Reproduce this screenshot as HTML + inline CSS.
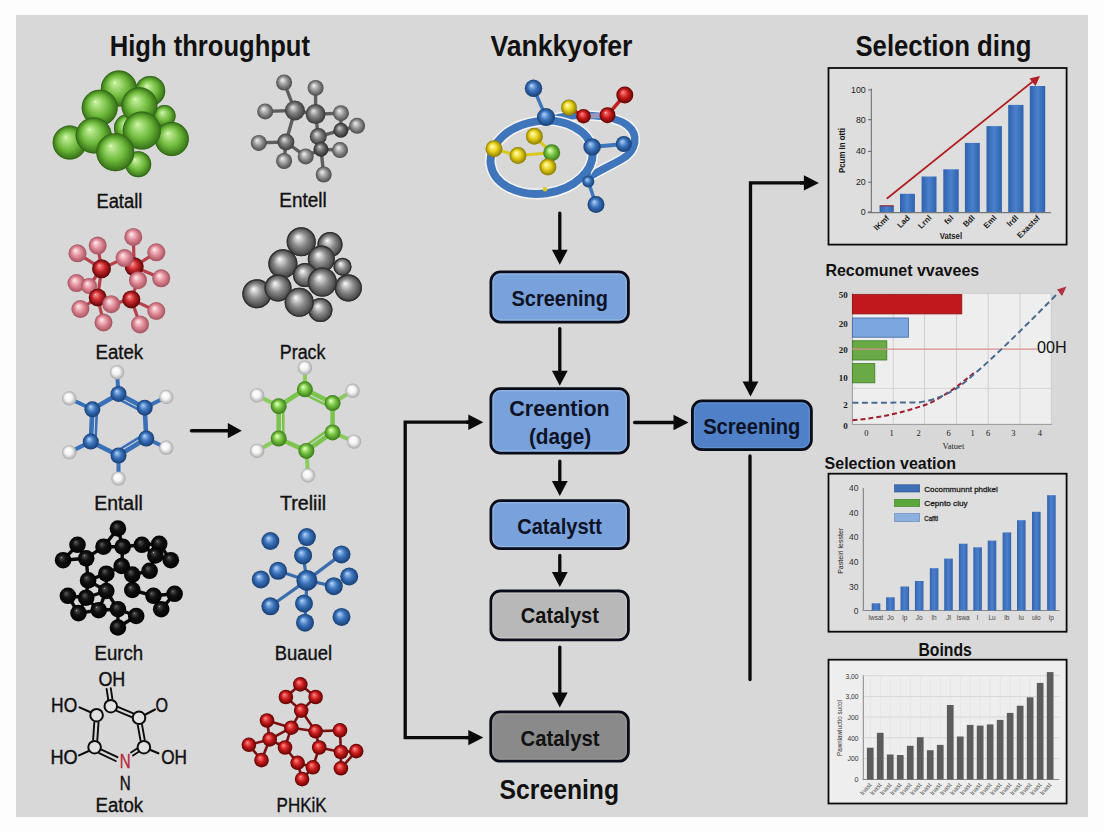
<!DOCTYPE html><html><head><meta charset="utf-8"><style>html,body{margin:0;padding:0;background:#fdfdfd;width:1104px;height:832px;overflow:hidden;position:relative}</style></head><body><svg width="1104" height="832" viewBox="0 0 1104 832" style="position:absolute;left:0;top:0">
<defs><radialGradient id="g_green" cx="0.5" cy="0.5" r="0.5" fx="0.38" fy="0.33"><stop offset="0" stop-color="#ffffff" stop-opacity="0.9"/><stop offset="0.06" stop-color="#c4f09a"/><stop offset="0.6" stop-color="#6cb83a"/><stop offset="1" stop-color="#346e16"/></radialGradient><radialGradient id="g_lgray" cx="0.5" cy="0.5" r="0.5" fx="0.38" fy="0.33"><stop offset="0" stop-color="#ffffff" stop-opacity="0.9"/><stop offset="0.06" stop-color="#e8e8e8"/><stop offset="0.5" stop-color="#9a9a9a"/><stop offset="1" stop-color="#4a4a4a"/></radialGradient><radialGradient id="g_cgray" cx="0.5" cy="0.5" r="0.5" fx="0.38" fy="0.33"><stop offset="0" stop-color="#ffffff" stop-opacity="0.9"/><stop offset="0.06" stop-color="#d8d8d8"/><stop offset="0.5" stop-color="#7e7e7e"/><stop offset="1" stop-color="#3a3a3a"/></radialGradient><radialGradient id="g_dgray" cx="0.5" cy="0.5" r="0.5" fx="0.38" fy="0.33"><stop offset="0" stop-color="#ffffff" stop-opacity="0.9"/><stop offset="0.06" stop-color="#c0c0c0"/><stop offset="0.5" stop-color="#6a6a6a"/><stop offset="1" stop-color="#2a2a2a"/></radialGradient><radialGradient id="g_mgray" cx="0.5" cy="0.5" r="0.5" fx="0.38" fy="0.33"><stop offset="0" stop-color="#ffffff" stop-opacity="0.9"/><stop offset="0.06" stop-color="#eeeeee"/><stop offset="0.5" stop-color="#8c8c8c"/><stop offset="1" stop-color="#3c3c3c"/></radialGradient><radialGradient id="g_pink" cx="0.5" cy="0.5" r="0.5" fx="0.38" fy="0.33"><stop offset="0" stop-color="#ffffff" stop-opacity="0.9"/><stop offset="0.06" stop-color="#fde2e6"/><stop offset="0.5" stop-color="#e4909c"/><stop offset="1" stop-color="#a4525e"/></radialGradient><radialGradient id="g_red" cx="0.5" cy="0.5" r="0.5" fx="0.38" fy="0.33"><stop offset="0" stop-color="#ffffff" stop-opacity="0.9"/><stop offset="0.06" stop-color="#ff8a8a"/><stop offset="0.5" stop-color="#c8282c"/><stop offset="1" stop-color="#5a0404"/></radialGradient><radialGradient id="g_red2" cx="0.5" cy="0.5" r="0.5" fx="0.38" fy="0.33"><stop offset="0" stop-color="#ffffff" stop-opacity="0.9"/><stop offset="0.06" stop-color="#ff7a7a"/><stop offset="0.5" stop-color="#cc1e1e"/><stop offset="1" stop-color="#5e0000"/></radialGradient><radialGradient id="g_blue" cx="0.5" cy="0.5" r="0.5" fx="0.38" fy="0.33"><stop offset="0" stop-color="#ffffff" stop-opacity="0.9"/><stop offset="0.06" stop-color="#a4c8f2"/><stop offset="0.5" stop-color="#3c74bc"/><stop offset="1" stop-color="#163e74"/></radialGradient><radialGradient id="g_white" cx="0.5" cy="0.5" r="0.5" fx="0.38" fy="0.33"><stop offset="0" stop-color="#ffffff" stop-opacity="0.9"/><stop offset="0.06" stop-color="#ffffff"/><stop offset="0.5" stop-color="#f4f4f4"/><stop offset="1" stop-color="#a8a8a8"/></radialGradient><radialGradient id="g_black" cx="0.5" cy="0.5" r="0.5" fx="0.38" fy="0.33"><stop offset="0" stop-color="#ffffff" stop-opacity="0.9"/><stop offset="0.06" stop-color="#505050"/><stop offset="0.45" stop-color="#121212"/><stop offset="1" stop-color="#000000"/></radialGradient><radialGradient id="g_yellow" cx="0.5" cy="0.5" r="0.5" fx="0.38" fy="0.33"><stop offset="0" stop-color="#ffffff" stop-opacity="0.9"/><stop offset="0.06" stop-color="#fffbb0"/><stop offset="0.5" stop-color="#e8d21c"/><stop offset="1" stop-color="#8a7a00"/></radialGradient><radialGradient id="g_lgreen" cx="0.5" cy="0.5" r="0.5" fx="0.38" fy="0.33"><stop offset="0" stop-color="#ffffff" stop-opacity="0.9"/><stop offset="0.06" stop-color="#d8ffb0"/><stop offset="0.5" stop-color="#78c444"/><stop offset="1" stop-color="#3a7a18"/></radialGradient><marker id="ah" markerWidth="6" markerHeight="6" refX="5" refY="3" orient="auto" markerUnits="strokeWidth"><path d="M0,0 L6,3 L0,6 z" fill="#111"/></marker></defs>
<rect x="0" y="0" width="1104" height="832" fill="#fdfdfd"/>
<rect x="16" y="15" width="1072" height="802" fill="#d8d8d8"/>
<text x="109.8" y="56" font-size="29" font-weight="bold" fill="#111" text-anchor="start" font-family="&quot;Liberation Sans&quot;, sans-serif" textLength="200.2" lengthAdjust="spacingAndGlyphs" >High throughput</text>
<text x="490.4" y="56.2" font-size="29" font-weight="bold" fill="#111" text-anchor="start" font-family="&quot;Liberation Sans&quot;, sans-serif" textLength="142.1" lengthAdjust="spacingAndGlyphs" >Vankkyofer</text>
<text x="855.4" y="56" font-size="29" font-weight="bold" fill="#111" text-anchor="start" font-family="&quot;Liberation Sans&quot;, sans-serif" textLength="176" lengthAdjust="spacingAndGlyphs" >Selection ding</text>
<text x="96.4" y="207.6" font-size="19.5" font-weight="normal" fill="#111" text-anchor="start" font-family="&quot;Liberation Sans&quot;, sans-serif" textLength="45.9" lengthAdjust="spacingAndGlyphs" stroke="#111" stroke-width="0.35">Eatall</text>
<text x="279.3" y="207.4" font-size="19.5" font-weight="normal" fill="#111" text-anchor="start" font-family="&quot;Liberation Sans&quot;, sans-serif" textLength="47.4" lengthAdjust="spacingAndGlyphs" stroke="#111" stroke-width="0.35">Entell</text>
<text x="95.5" y="359" font-size="19.5" font-weight="normal" fill="#111" text-anchor="start" font-family="&quot;Liberation Sans&quot;, sans-serif" textLength="47.7" lengthAdjust="spacingAndGlyphs" stroke="#111" stroke-width="0.35">Eatek</text>
<text x="279.8" y="359" font-size="19.5" font-weight="normal" fill="#111" text-anchor="start" font-family="&quot;Liberation Sans&quot;, sans-serif" textLength="45.6" lengthAdjust="spacingAndGlyphs" stroke="#111" stroke-width="0.35">Prack</text>
<text x="94.2" y="510.3" font-size="19.5" font-weight="normal" fill="#111" text-anchor="start" font-family="&quot;Liberation Sans&quot;, sans-serif" textLength="48.6" lengthAdjust="spacingAndGlyphs" stroke="#111" stroke-width="0.35">Entall</text>
<text x="280.0" y="510.3" font-size="19.5" font-weight="normal" fill="#111" text-anchor="start" font-family="&quot;Liberation Sans&quot;, sans-serif" textLength="46.2" lengthAdjust="spacingAndGlyphs" stroke="#111" stroke-width="0.35">Treliil</text>
<text x="94.6" y="659.6" font-size="19.5" font-weight="normal" fill="#111" text-anchor="start" font-family="&quot;Liberation Sans&quot;, sans-serif" textLength="48.6" lengthAdjust="spacingAndGlyphs" stroke="#111" stroke-width="0.35">Eurch</text>
<text x="274.8" y="659.6" font-size="19.5" font-weight="normal" fill="#111" text-anchor="start" font-family="&quot;Liberation Sans&quot;, sans-serif" textLength="57.4" lengthAdjust="spacingAndGlyphs" stroke="#111" stroke-width="0.35">Buauel</text>
<text x="95.5" y="811.8" font-size="19.5" font-weight="normal" fill="#111" text-anchor="start" font-family="&quot;Liberation Sans&quot;, sans-serif" textLength="47.7" lengthAdjust="spacingAndGlyphs" stroke="#111" stroke-width="0.35">Eatok</text>
<text x="276.6" y="811.5" font-size="19.5" font-weight="normal" fill="#111" text-anchor="start" font-family="&quot;Liberation Sans&quot;, sans-serif" textLength="50.1" lengthAdjust="spacingAndGlyphs" stroke="#111" stroke-width="0.35">PHKiK</text>
<circle cx="164.6" cy="116.0" r="11.0" fill="url(#g_green)"/>
<circle cx="164.6" cy="116" r="10.6" fill="none" stroke="#2e5e14" stroke-width="0.8" opacity="0.7"/>
<circle cx="150.2" cy="90.9" r="15.0" fill="url(#g_green)"/>
<circle cx="150.2" cy="90.9" r="14.6" fill="none" stroke="#2e5e14" stroke-width="0.8" opacity="0.7"/>
<circle cx="118.9" cy="88.5" r="18.0" fill="url(#g_green)"/>
<circle cx="118.9" cy="88.5" r="17.6" fill="none" stroke="#2e5e14" stroke-width="0.8" opacity="0.7"/>
<circle cx="138.2" cy="164.2" r="13.0" fill="url(#g_green)"/>
<circle cx="138.2" cy="164.2" r="12.6" fill="none" stroke="#2e5e14" stroke-width="0.8" opacity="0.7"/>
<circle cx="171.8" cy="139.0" r="17.0" fill="url(#g_green)"/>
<circle cx="171.8" cy="139" r="16.6" fill="none" stroke="#2e5e14" stroke-width="0.8" opacity="0.7"/>
<circle cx="69.7" cy="142.6" r="17.0" fill="url(#g_green)"/>
<circle cx="69.7" cy="142.6" r="16.6" fill="none" stroke="#2e5e14" stroke-width="0.8" opacity="0.7"/>
<circle cx="128.0" cy="128.0" r="14.0" fill="url(#g_green)"/>
<circle cx="128" cy="128" r="13.6" fill="none" stroke="#2e5e14" stroke-width="0.8" opacity="0.7"/>
<circle cx="139.4" cy="105.3" r="18.0" fill="url(#g_green)"/>
<circle cx="139.4" cy="105.3" r="17.6" fill="none" stroke="#2e5e14" stroke-width="0.8" opacity="0.7"/>
<circle cx="99.7" cy="107.7" r="18.0" fill="url(#g_green)"/>
<circle cx="99.7" cy="107.7" r="17.6" fill="none" stroke="#2e5e14" stroke-width="0.8" opacity="0.7"/>
<circle cx="93.7" cy="135.4" r="18.0" fill="url(#g_green)"/>
<circle cx="93.7" cy="135.4" r="17.6" fill="none" stroke="#2e5e14" stroke-width="0.8" opacity="0.7"/>
<circle cx="141.8" cy="130.6" r="19.0" fill="url(#g_green)"/>
<circle cx="141.8" cy="130.6" r="18.6" fill="none" stroke="#2e5e14" stroke-width="0.8" opacity="0.7"/>
<circle cx="115.3" cy="152.2" r="19.0" fill="url(#g_green)"/>
<circle cx="115.3" cy="152.2" r="18.6" fill="none" stroke="#2e5e14" stroke-width="0.8" opacity="0.7"/>
<line x1="294.9" y1="110.5" x2="284.1" y2="82.5" stroke="#5e5e5e" stroke-width="3.4" stroke-linecap="round" />
<line x1="315.6" y1="114.1" x2="315.6" y2="87.9" stroke="#5e5e5e" stroke-width="3.4" stroke-linecap="round" />
<line x1="294.9" y1="110.5" x2="265.2" y2="111.4" stroke="#5e5e5e" stroke-width="3.4" stroke-linecap="round" />
<line x1="294.9" y1="110.5" x2="315.6" y2="114.1" stroke="#5e5e5e" stroke-width="3.4" stroke-linecap="round" />
<line x1="315.6" y1="114.1" x2="340.9" y2="113.2" stroke="#5e5e5e" stroke-width="3.4" stroke-linecap="round" />
<line x1="294.9" y1="110.5" x2="285.9" y2="142.0" stroke="#5e5e5e" stroke-width="3.4" stroke-linecap="round" />
<line x1="315.6" y1="114.1" x2="318.3" y2="136.6" stroke="#5e5e5e" stroke-width="3.4" stroke-linecap="round" />
<line x1="318.3" y1="136.6" x2="340.9" y2="130.3" stroke="#5e5e5e" stroke-width="3.4" stroke-linecap="round" />
<line x1="340.9" y1="130.3" x2="357.1" y2="125.8" stroke="#5e5e5e" stroke-width="3.4" stroke-linecap="round" />
<line x1="340.9" y1="130.3" x2="340.9" y2="113.2" stroke="#5e5e5e" stroke-width="3.4" stroke-linecap="round" />
<line x1="318.3" y1="136.6" x2="321.0" y2="149.2" stroke="#5e5e5e" stroke-width="3.4" stroke-linecap="round" />
<line x1="321.0" y1="149.2" x2="340.0" y2="150.1" stroke="#5e5e5e" stroke-width="3.4" stroke-linecap="round" />
<line x1="321.0" y1="149.2" x2="323.7" y2="174.5" stroke="#5e5e5e" stroke-width="3.4" stroke-linecap="round" />
<line x1="285.9" y1="142.0" x2="258.8" y2="142.9" stroke="#5e5e5e" stroke-width="3.4" stroke-linecap="round" />
<line x1="285.9" y1="142.0" x2="305.7" y2="156.4" stroke="#5e5e5e" stroke-width="3.4" stroke-linecap="round" />
<line x1="285.9" y1="142.0" x2="284.1" y2="161.0" stroke="#5e5e5e" stroke-width="3.4" stroke-linecap="round" />
<line x1="305.7" y1="156.4" x2="321.0" y2="149.2" stroke="#5e5e5e" stroke-width="3.4" stroke-linecap="round" />
<circle cx="284.1" cy="82.5" r="8.0" fill="url(#g_lgray)"/>
<circle cx="315.6" cy="87.9" r="8.0" fill="url(#g_lgray)"/>
<circle cx="265.2" cy="111.4" r="8.0" fill="url(#g_lgray)"/>
<circle cx="357.1" cy="125.8" r="8.0" fill="url(#g_lgray)"/>
<circle cx="340.9" cy="113.2" r="8.0" fill="url(#g_lgray)"/>
<circle cx="294.9" cy="110.5" r="10.0" fill="url(#g_cgray)"/>
<circle cx="315.6" cy="114.1" r="10.0" fill="url(#g_cgray)"/>
<circle cx="258.8" cy="142.9" r="8.0" fill="url(#g_lgray)"/>
<circle cx="340.9" cy="130.3" r="7.5" fill="url(#g_dgray)"/>
<circle cx="318.3" cy="136.6" r="8.5" fill="url(#g_cgray)"/>
<circle cx="340.0" cy="150.1" r="8.0" fill="url(#g_lgray)"/>
<circle cx="321.0" cy="149.2" r="7.5" fill="url(#g_dgray)"/>
<circle cx="305.7" cy="156.4" r="8.0" fill="url(#g_lgray)"/>
<circle cx="284.1" cy="161.0" r="8.0" fill="url(#g_lgray)"/>
<circle cx="323.7" cy="174.5" r="8.0" fill="url(#g_lgray)"/>
<circle cx="285.9" cy="142.0" r="8.5" fill="url(#g_cgray)"/>
<line x1="101.5" y1="268.7" x2="97.7" y2="245.6" stroke="#b8404a" stroke-width="3.2" stroke-linecap="round" />
<line x1="101.5" y1="268.7" x2="77.5" y2="253.3" stroke="#b8404a" stroke-width="3.2" stroke-linecap="round" />
<line x1="101.5" y1="268.7" x2="124.6" y2="258.1" stroke="#b8404a" stroke-width="3.2" stroke-linecap="round" />
<line x1="101.5" y1="268.7" x2="97.7" y2="297.5" stroke="#b8404a" stroke-width="3.2" stroke-linecap="round" />
<line x1="101.5" y1="268.7" x2="89.0" y2="286.0" stroke="#b8404a" stroke-width="3.2" stroke-linecap="round" />
<line x1="134.2" y1="266.7" x2="133.3" y2="236.9" stroke="#b8404a" stroke-width="3.2" stroke-linecap="round" />
<line x1="134.2" y1="266.7" x2="156.3" y2="252.3" stroke="#b8404a" stroke-width="3.2" stroke-linecap="round" />
<line x1="134.2" y1="266.7" x2="124.6" y2="258.1" stroke="#b8404a" stroke-width="3.2" stroke-linecap="round" />
<line x1="134.2" y1="266.7" x2="138.0" y2="280.2" stroke="#b8404a" stroke-width="3.2" stroke-linecap="round" />
<line x1="134.2" y1="266.7" x2="161.2" y2="278.3" stroke="#b8404a" stroke-width="3.2" stroke-linecap="round" />
<line x1="97.7" y1="297.5" x2="76.5" y2="283.1" stroke="#b8404a" stroke-width="3.2" stroke-linecap="round" />
<line x1="97.7" y1="297.5" x2="80.4" y2="309.0" stroke="#b8404a" stroke-width="3.2" stroke-linecap="round" />
<line x1="97.7" y1="297.5" x2="103.5" y2="322.5" stroke="#b8404a" stroke-width="3.2" stroke-linecap="round" />
<line x1="97.7" y1="297.5" x2="111.2" y2="304.2" stroke="#b8404a" stroke-width="3.2" stroke-linecap="round" />
<line x1="131.3" y1="299.4" x2="138.0" y2="280.2" stroke="#b8404a" stroke-width="3.2" stroke-linecap="round" />
<line x1="131.3" y1="299.4" x2="111.2" y2="304.2" stroke="#b8404a" stroke-width="3.2" stroke-linecap="round" />
<line x1="131.3" y1="299.4" x2="156.3" y2="311.0" stroke="#b8404a" stroke-width="3.2" stroke-linecap="round" />
<line x1="131.3" y1="299.4" x2="140.0" y2="324.4" stroke="#b8404a" stroke-width="3.2" stroke-linecap="round" />
<circle cx="133.3" cy="236.9" r="9.0" fill="url(#g_pink)"/>
<circle cx="97.7" cy="245.6" r="9.0" fill="url(#g_pink)"/>
<circle cx="77.5" cy="253.3" r="9.0" fill="url(#g_pink)"/>
<circle cx="156.3" cy="252.3" r="9.0" fill="url(#g_pink)"/>
<circle cx="76.5" cy="283.1" r="9.0" fill="url(#g_pink)"/>
<circle cx="161.2" cy="278.3" r="9.0" fill="url(#g_pink)"/>
<circle cx="101.5" cy="268.7" r="9.5" fill="url(#g_red)"/>
<circle cx="134.2" cy="266.7" r="9.5" fill="url(#g_red)"/>
<circle cx="124.6" cy="258.1" r="9.0" fill="url(#g_pink)"/>
<circle cx="89.0" cy="286.0" r="8.0" fill="url(#g_pink)"/>
<circle cx="97.7" cy="297.5" r="9.0" fill="url(#g_red)"/>
<circle cx="131.3" cy="299.4" r="9.0" fill="url(#g_red)"/>
<circle cx="138.0" cy="280.2" r="9.0" fill="url(#g_pink)"/>
<circle cx="80.4" cy="309.0" r="9.0" fill="url(#g_pink)"/>
<circle cx="156.3" cy="311.0" r="9.0" fill="url(#g_pink)"/>
<circle cx="103.5" cy="322.5" r="9.0" fill="url(#g_pink)"/>
<circle cx="140.0" cy="324.4" r="9.0" fill="url(#g_pink)"/>
<circle cx="111.2" cy="304.2" r="9.0" fill="url(#g_pink)"/>
<circle cx="342.5" cy="266.7" r="9.0" fill="url(#g_mgray)"/>
<circle cx="342.5" cy="266.7" r="8.4" fill="none" stroke="#303030" stroke-width="1.3"/>
<circle cx="330.0" cy="244.6" r="12.5" fill="url(#g_mgray)"/>
<circle cx="330.0" cy="244.6" r="11.9" fill="none" stroke="#303030" stroke-width="1.3"/>
<circle cx="301.2" cy="241.7" r="14.5" fill="url(#g_mgray)"/>
<circle cx="301.2" cy="241.7" r="13.9" fill="none" stroke="#303030" stroke-width="1.3"/>
<circle cx="321.3" cy="259.0" r="13.5" fill="url(#g_mgray)"/>
<circle cx="321.3" cy="259.0" r="12.9" fill="none" stroke="#303030" stroke-width="1.3"/>
<circle cx="282.9" cy="263.8" r="14.5" fill="url(#g_mgray)"/>
<circle cx="282.9" cy="263.8" r="13.9" fill="none" stroke="#303030" stroke-width="1.3"/>
<circle cx="305.0" cy="275.0" r="12.0" fill="url(#g_mgray)"/>
<circle cx="305.0" cy="275.0" r="11.4" fill="none" stroke="#303030" stroke-width="1.3"/>
<circle cx="256.9" cy="293.7" r="14.5" fill="url(#g_mgray)"/>
<circle cx="256.9" cy="293.7" r="13.9" fill="none" stroke="#303030" stroke-width="1.3"/>
<circle cx="278.0" cy="287.9" r="13.5" fill="url(#g_mgray)"/>
<circle cx="278.0" cy="287.9" r="12.9" fill="none" stroke="#303030" stroke-width="1.3"/>
<circle cx="348.3" cy="287.9" r="13.5" fill="url(#g_mgray)"/>
<circle cx="348.3" cy="287.9" r="12.9" fill="none" stroke="#303030" stroke-width="1.3"/>
<circle cx="320.4" cy="310.0" r="12.0" fill="url(#g_mgray)"/>
<circle cx="320.4" cy="310.0" r="11.4" fill="none" stroke="#303030" stroke-width="1.3"/>
<circle cx="322.3" cy="282.1" r="14.5" fill="url(#g_mgray)"/>
<circle cx="322.3" cy="282.1" r="13.9" fill="none" stroke="#303030" stroke-width="1.3"/>
<circle cx="299.2" cy="302.3" r="14.5" fill="url(#g_mgray)"/>
<circle cx="299.2" cy="302.3" r="13.9" fill="none" stroke="#303030" stroke-width="1.3"/>
<line x1="118.5" y1="393.9" x2="144.7" y2="407.7" stroke="#3a70b8" stroke-width="4.6" stroke-linecap="round" />
<line x1="144.7" y1="407.7" x2="146.3" y2="438.5" stroke="#3a70b8" stroke-width="4.6" stroke-linecap="round" />
<line x1="146.3" y1="438.5" x2="118.5" y2="455.5" stroke="#3a70b8" stroke-width="4.6" stroke-linecap="round" />
<line x1="118.5" y1="455.5" x2="90.8" y2="441.6" stroke="#3a70b8" stroke-width="4.6" stroke-linecap="round" />
<line x1="90.8" y1="441.6" x2="92.4" y2="409.3" stroke="#3a70b8" stroke-width="4.6" stroke-linecap="round" />
<line x1="92.4" y1="409.3" x2="118.5" y2="393.9" stroke="#3a70b8" stroke-width="4.6" stroke-linecap="round" />
<line x1="121.0" y1="400.4" x2="137.8" y2="409.2" stroke="#3a70b8" stroke-width="2.6" stroke-linecap="round" />
<line x1="138.9" y1="437.6" x2="121.1" y2="448.5" stroke="#3a70b8" stroke-width="2.6" stroke-linecap="round" />
<line x1="95.7" y1="435.6" x2="96.7" y2="414.9" stroke="#3a70b8" stroke-width="2.6" stroke-linecap="round" />
<line x1="118.5" y1="393.9" x2="117.0" y2="372.3" stroke="#3a70b8" stroke-width="4" stroke-linecap="round" />
<line x1="144.7" y1="407.7" x2="166.3" y2="397.0" stroke="#3a70b8" stroke-width="4" stroke-linecap="round" />
<line x1="146.3" y1="438.5" x2="166.3" y2="447.8" stroke="#3a70b8" stroke-width="4" stroke-linecap="round" />
<line x1="118.5" y1="455.5" x2="118.5" y2="478.6" stroke="#3a70b8" stroke-width="4" stroke-linecap="round" />
<line x1="90.8" y1="441.6" x2="69.3" y2="452.4" stroke="#3a70b8" stroke-width="4" stroke-linecap="round" />
<line x1="92.4" y1="409.3" x2="69.3" y2="398.5" stroke="#3a70b8" stroke-width="4" stroke-linecap="round" />
<circle cx="117.0" cy="372.3" r="7.2" fill="url(#g_white)"/>
<circle cx="166.3" cy="397.0" r="7.2" fill="url(#g_white)"/>
<circle cx="166.3" cy="447.8" r="7.2" fill="url(#g_white)"/>
<circle cx="118.5" cy="478.6" r="7.2" fill="url(#g_white)"/>
<circle cx="69.3" cy="452.4" r="7.2" fill="url(#g_white)"/>
<circle cx="69.3" cy="398.5" r="7.2" fill="url(#g_white)"/>
<circle cx="118.5" cy="393.9" r="8.0" fill="url(#g_blue)"/>
<circle cx="144.7" cy="407.7" r="8.0" fill="url(#g_blue)"/>
<circle cx="146.3" cy="438.5" r="8.0" fill="url(#g_blue)"/>
<circle cx="118.5" cy="455.5" r="8.0" fill="url(#g_blue)"/>
<circle cx="90.8" cy="441.6" r="8.0" fill="url(#g_blue)"/>
<circle cx="92.4" cy="409.3" r="8.0" fill="url(#g_blue)"/>
<line x1="304.9" y1="389.3" x2="332.6" y2="403.1" stroke="#7cc44e" stroke-width="4.6" stroke-linecap="round" />
<line x1="332.6" y1="403.1" x2="332.6" y2="432.4" stroke="#7cc44e" stroke-width="4.6" stroke-linecap="round" />
<line x1="332.6" y1="432.4" x2="306.4" y2="450.9" stroke="#7cc44e" stroke-width="4.6" stroke-linecap="round" />
<line x1="306.4" y1="450.9" x2="278.7" y2="438.5" stroke="#7cc44e" stroke-width="4.6" stroke-linecap="round" />
<line x1="278.7" y1="438.5" x2="278.7" y2="406.2" stroke="#7cc44e" stroke-width="4.6" stroke-linecap="round" />
<line x1="278.7" y1="406.2" x2="304.9" y2="389.3" stroke="#7cc44e" stroke-width="4.6" stroke-linecap="round" />
<line x1="307.7" y1="395.8" x2="325.4" y2="404.6" stroke="#7cc44e" stroke-width="2.6" stroke-linecap="round" />
<line x1="325.4" y1="431.9" x2="308.6" y2="443.7" stroke="#7cc44e" stroke-width="2.6" stroke-linecap="round" />
<line x1="283.3" y1="432.3" x2="283.3" y2="411.6" stroke="#7cc44e" stroke-width="2.6" stroke-linecap="round" />
<line x1="304.9" y1="389.3" x2="304.9" y2="367.7" stroke="#8ccc5e" stroke-width="4" stroke-linecap="round" />
<line x1="332.6" y1="403.1" x2="352.6" y2="390.8" stroke="#8ccc5e" stroke-width="4" stroke-linecap="round" />
<line x1="332.6" y1="432.4" x2="354.1" y2="441.6" stroke="#8ccc5e" stroke-width="4" stroke-linecap="round" />
<line x1="306.4" y1="450.9" x2="308.0" y2="475.5" stroke="#8ccc5e" stroke-width="4" stroke-linecap="round" />
<line x1="278.7" y1="438.5" x2="257.1" y2="450.9" stroke="#8ccc5e" stroke-width="4" stroke-linecap="round" />
<line x1="278.7" y1="406.2" x2="257.1" y2="395.4" stroke="#8ccc5e" stroke-width="4" stroke-linecap="round" />
<circle cx="304.9" cy="367.7" r="7.2" fill="url(#g_white)"/>
<circle cx="352.6" cy="390.8" r="7.2" fill="url(#g_white)"/>
<circle cx="354.1" cy="441.6" r="7.2" fill="url(#g_white)"/>
<circle cx="308.0" cy="475.5" r="7.2" fill="url(#g_white)"/>
<circle cx="257.1" cy="450.9" r="7.2" fill="url(#g_white)"/>
<circle cx="257.1" cy="395.4" r="7.2" fill="url(#g_white)"/>
<circle cx="304.9" cy="389.3" r="8.0" fill="url(#g_lgreen)"/>
<circle cx="332.6" cy="403.1" r="8.0" fill="url(#g_lgreen)"/>
<circle cx="332.6" cy="432.4" r="8.0" fill="url(#g_lgreen)"/>
<circle cx="306.4" cy="450.9" r="8.0" fill="url(#g_lgreen)"/>
<circle cx="278.7" cy="438.5" r="8.0" fill="url(#g_lgreen)"/>
<circle cx="278.7" cy="406.2" r="8.0" fill="url(#g_lgreen)"/>
<line x1="117.9" y1="528.5" x2="103.5" y2="546.7" stroke="#0a0a0a" stroke-width="3.4" stroke-linecap="round" />
<line x1="117.9" y1="528.5" x2="122.7" y2="546.7" stroke="#0a0a0a" stroke-width="3.4" stroke-linecap="round" />
<line x1="77.5" y1="544.8" x2="63.1" y2="560.2" stroke="#0a0a0a" stroke-width="3.4" stroke-linecap="round" />
<line x1="77.5" y1="544.8" x2="86.2" y2="558.3" stroke="#0a0a0a" stroke-width="3.4" stroke-linecap="round" />
<line x1="103.5" y1="546.7" x2="122.7" y2="546.7" stroke="#0a0a0a" stroke-width="3.4" stroke-linecap="round" />
<line x1="103.5" y1="546.7" x2="86.2" y2="558.3" stroke="#0a0a0a" stroke-width="3.4" stroke-linecap="round" />
<line x1="122.7" y1="546.7" x2="141.9" y2="544.8" stroke="#0a0a0a" stroke-width="3.4" stroke-linecap="round" />
<line x1="122.7" y1="546.7" x2="121.7" y2="566.0" stroke="#0a0a0a" stroke-width="3.4" stroke-linecap="round" />
<line x1="141.9" y1="544.8" x2="159.2" y2="543.8" stroke="#0a0a0a" stroke-width="3.4" stroke-linecap="round" />
<line x1="141.9" y1="544.8" x2="155.4" y2="555.4" stroke="#0a0a0a" stroke-width="3.4" stroke-linecap="round" />
<line x1="159.2" y1="543.8" x2="155.4" y2="555.4" stroke="#0a0a0a" stroke-width="3.4" stroke-linecap="round" />
<line x1="159.2" y1="543.8" x2="170.8" y2="560.2" stroke="#0a0a0a" stroke-width="3.4" stroke-linecap="round" />
<line x1="63.1" y1="560.2" x2="86.2" y2="558.3" stroke="#0a0a0a" stroke-width="3.4" stroke-linecap="round" />
<line x1="86.2" y1="558.3" x2="88.1" y2="580.4" stroke="#0a0a0a" stroke-width="3.4" stroke-linecap="round" />
<line x1="155.4" y1="555.4" x2="170.8" y2="560.2" stroke="#0a0a0a" stroke-width="3.4" stroke-linecap="round" />
<line x1="155.4" y1="555.4" x2="149.6" y2="570.8" stroke="#0a0a0a" stroke-width="3.4" stroke-linecap="round" />
<line x1="121.7" y1="566.0" x2="106.3" y2="573.7" stroke="#0a0a0a" stroke-width="3.4" stroke-linecap="round" />
<line x1="121.7" y1="566.0" x2="132.3" y2="574.6" stroke="#0a0a0a" stroke-width="3.4" stroke-linecap="round" />
<line x1="106.3" y1="573.7" x2="88.1" y2="580.4" stroke="#0a0a0a" stroke-width="3.4" stroke-linecap="round" />
<line x1="106.3" y1="573.7" x2="106.3" y2="591.0" stroke="#0a0a0a" stroke-width="3.4" stroke-linecap="round" />
<line x1="132.3" y1="574.6" x2="149.6" y2="570.8" stroke="#0a0a0a" stroke-width="3.4" stroke-linecap="round" />
<line x1="132.3" y1="574.6" x2="132.3" y2="590.0" stroke="#0a0a0a" stroke-width="3.4" stroke-linecap="round" />
<line x1="88.1" y1="580.4" x2="106.3" y2="591.0" stroke="#0a0a0a" stroke-width="3.4" stroke-linecap="round" />
<line x1="88.1" y1="580.4" x2="86.2" y2="597.7" stroke="#0a0a0a" stroke-width="3.4" stroke-linecap="round" />
<line x1="106.3" y1="591.0" x2="86.2" y2="597.7" stroke="#0a0a0a" stroke-width="3.4" stroke-linecap="round" />
<line x1="106.3" y1="591.0" x2="98.7" y2="610.2" stroke="#0a0a0a" stroke-width="3.4" stroke-linecap="round" />
<line x1="106.3" y1="591.0" x2="117.9" y2="609.2" stroke="#0a0a0a" stroke-width="3.4" stroke-linecap="round" />
<line x1="132.3" y1="590.0" x2="153.5" y2="595.8" stroke="#0a0a0a" stroke-width="3.4" stroke-linecap="round" />
<line x1="67.9" y1="595.8" x2="86.2" y2="597.7" stroke="#0a0a0a" stroke-width="3.4" stroke-linecap="round" />
<line x1="67.9" y1="595.8" x2="78.5" y2="613.1" stroke="#0a0a0a" stroke-width="3.4" stroke-linecap="round" />
<line x1="86.2" y1="597.7" x2="78.5" y2="613.1" stroke="#0a0a0a" stroke-width="3.4" stroke-linecap="round" />
<line x1="86.2" y1="597.7" x2="98.7" y2="610.2" stroke="#0a0a0a" stroke-width="3.4" stroke-linecap="round" />
<line x1="153.5" y1="595.8" x2="174.6" y2="593.8" stroke="#0a0a0a" stroke-width="3.4" stroke-linecap="round" />
<line x1="153.5" y1="595.8" x2="161.2" y2="609.2" stroke="#0a0a0a" stroke-width="3.4" stroke-linecap="round" />
<line x1="174.6" y1="593.8" x2="161.2" y2="609.2" stroke="#0a0a0a" stroke-width="3.4" stroke-linecap="round" />
<line x1="78.5" y1="613.1" x2="98.7" y2="610.2" stroke="#0a0a0a" stroke-width="3.4" stroke-linecap="round" />
<line x1="98.7" y1="610.2" x2="117.9" y2="609.2" stroke="#0a0a0a" stroke-width="3.4" stroke-linecap="round" />
<line x1="117.9" y1="609.2" x2="136.2" y2="616.0" stroke="#0a0a0a" stroke-width="3.4" stroke-linecap="round" />
<line x1="117.9" y1="609.2" x2="117.9" y2="627.5" stroke="#0a0a0a" stroke-width="3.4" stroke-linecap="round" />
<line x1="136.2" y1="616.0" x2="117.9" y2="627.5" stroke="#0a0a0a" stroke-width="3.4" stroke-linecap="round" />
<circle cx="117.9" cy="528.5" r="8.3" fill="url(#g_black)"/>
<circle cx="77.5" cy="544.8" r="8.3" fill="url(#g_black)"/>
<circle cx="103.5" cy="546.7" r="8.3" fill="url(#g_black)"/>
<circle cx="122.7" cy="546.7" r="8.3" fill="url(#g_black)"/>
<circle cx="141.9" cy="544.8" r="8.3" fill="url(#g_black)"/>
<circle cx="159.2" cy="543.8" r="8.3" fill="url(#g_black)"/>
<circle cx="63.1" cy="560.2" r="8.3" fill="url(#g_black)"/>
<circle cx="86.2" cy="558.3" r="8.3" fill="url(#g_black)"/>
<circle cx="155.4" cy="555.4" r="8.3" fill="url(#g_black)"/>
<circle cx="170.8" cy="560.2" r="8.3" fill="url(#g_black)"/>
<circle cx="121.7" cy="566.0" r="8.3" fill="url(#g_black)"/>
<circle cx="106.3" cy="573.7" r="8.3" fill="url(#g_black)"/>
<circle cx="132.3" cy="574.6" r="8.3" fill="url(#g_black)"/>
<circle cx="149.6" cy="570.8" r="8.3" fill="url(#g_black)"/>
<circle cx="88.1" cy="580.4" r="8.3" fill="url(#g_black)"/>
<circle cx="106.3" cy="591.0" r="8.3" fill="url(#g_black)"/>
<circle cx="132.3" cy="590.0" r="8.3" fill="url(#g_black)"/>
<circle cx="67.9" cy="595.8" r="8.3" fill="url(#g_black)"/>
<circle cx="86.2" cy="597.7" r="8.3" fill="url(#g_black)"/>
<circle cx="153.5" cy="595.8" r="8.3" fill="url(#g_black)"/>
<circle cx="174.6" cy="593.8" r="8.3" fill="url(#g_black)"/>
<circle cx="78.5" cy="613.1" r="8.3" fill="url(#g_black)"/>
<circle cx="98.7" cy="610.2" r="8.3" fill="url(#g_black)"/>
<circle cx="117.9" cy="609.2" r="8.3" fill="url(#g_black)"/>
<circle cx="136.2" cy="616.0" r="8.3" fill="url(#g_black)"/>
<circle cx="161.2" cy="609.2" r="8.3" fill="url(#g_black)"/>
<circle cx="117.9" cy="627.5" r="8.3" fill="url(#g_black)"/>
<line x1="306.9" y1="580.4" x2="341.5" y2="554.4" stroke="#3a6cae" stroke-width="3.2" stroke-linecap="round" />
<line x1="306.9" y1="580.4" x2="278.1" y2="570.8" stroke="#3a6cae" stroke-width="3.2" stroke-linecap="round" />
<line x1="306.9" y1="580.4" x2="270.4" y2="606.3" stroke="#3a6cae" stroke-width="3.2" stroke-linecap="round" />
<line x1="306.9" y1="580.4" x2="305.0" y2="622.7" stroke="#3a6cae" stroke-width="3.2" stroke-linecap="round" />
<line x1="306.9" y1="580.4" x2="303.1" y2="555.4" stroke="#3a6cae" stroke-width="3.2" stroke-linecap="round" />
<line x1="306.9" y1="580.4" x2="333.8" y2="586.2" stroke="#3a6cae" stroke-width="3.2" stroke-linecap="round" />
<circle cx="270.4" cy="541.0" r="9.0" fill="url(#g_blue)"/>
<circle cx="306.9" cy="537.1" r="9.0" fill="url(#g_blue)"/>
<circle cx="303.1" cy="555.4" r="9.0" fill="url(#g_blue)"/>
<circle cx="341.5" cy="554.4" r="9.0" fill="url(#g_blue)"/>
<circle cx="278.1" cy="570.8" r="9.0" fill="url(#g_blue)"/>
<circle cx="260.8" cy="579.4" r="9.0" fill="url(#g_blue)"/>
<circle cx="306.9" cy="580.4" r="10.5" fill="url(#g_blue)"/>
<circle cx="349.2" cy="576.5" r="9.0" fill="url(#g_blue)"/>
<circle cx="333.8" cy="586.2" r="9.0" fill="url(#g_blue)"/>
<circle cx="270.4" cy="606.3" r="9.0" fill="url(#g_blue)"/>
<circle cx="304.0" cy="603.5" r="9.0" fill="url(#g_blue)"/>
<circle cx="305.0" cy="622.7" r="9.0" fill="url(#g_blue)"/>
<circle cx="341.5" cy="616.9" r="9.0" fill="url(#g_blue)"/>
<line x1="106.6" y1="688.9" x2="108.2" y2="699.5" stroke="#0c0c0c" stroke-width="1.9" stroke-linecap="round" />
<line x1="110.8" y1="688.3" x2="112.4" y2="698.9" stroke="#0c0c0c" stroke-width="1.9" stroke-linecap="round" />
<line x1="79.5" y1="707.4" x2="90.6" y2="712.3" stroke="#0c0c0c" stroke-width="2.1" stroke-linecap="round" />
<line x1="116.7" y1="710.9" x2="131.7" y2="717.2" stroke="#0c0c0c" stroke-width="1.9" stroke-linecap="round" />
<line x1="118.3" y1="707.1" x2="133.3" y2="713.4" stroke="#0c0c0c" stroke-width="1.9" stroke-linecap="round" />
<line x1="145.5" y1="714.5" x2="155.0" y2="709.5" stroke="#0c0c0c" stroke-width="2.1" stroke-linecap="round" />
<line x1="94.3" y1="722.4" x2="93.1" y2="739.9" stroke="#0c0c0c" stroke-width="1.9" stroke-linecap="round" />
<line x1="98.5" y1="722.6" x2="97.3" y2="740.1" stroke="#0c0c0c" stroke-width="1.9" stroke-linecap="round" />
<line x1="137.8" y1="725.4" x2="140.5" y2="740.4" stroke="#0c0c0c" stroke-width="1.9" stroke-linecap="round" />
<line x1="142.0" y1="724.6" x2="144.7" y2="739.6" stroke="#0c0c0c" stroke-width="1.9" stroke-linecap="round" />
<line x1="79.0" y1="755.4" x2="88.2" y2="751.3" stroke="#0c0c0c" stroke-width="2.1" stroke-linecap="round" />
<line x1="99.1" y1="753.2" x2="115.7" y2="761.0" stroke="#0c0c0c" stroke-width="1.9" stroke-linecap="round" />
<line x1="100.9" y1="749.4" x2="117.5" y2="757.2" stroke="#0c0c0c" stroke-width="1.9" stroke-linecap="round" />
<line x1="133.0" y1="755.5" x2="139.5" y2="751.3" stroke="#0c0c0c" stroke-width="1.9" stroke-linecap="round" />
<line x1="131.0" y1="752.5" x2="137.5" y2="748.3" stroke="#0c0c0c" stroke-width="1.9" stroke-linecap="round" />
<line x1="150.5" y1="750.0" x2="158.4" y2="753.3" stroke="#0c0c0c" stroke-width="2.1" stroke-linecap="round" />
<circle cx="96.6" cy="715.2" r="6.3" fill="#e2e2e2" stroke="#0c0c0c" stroke-width="2"/>
<circle cx="110.8" cy="706.2" r="6.3" fill="#e2e2e2" stroke="#0c0c0c" stroke-width="2"/>
<circle cx="139" cy="717.8" r="6.3" fill="#e2e2e2" stroke="#0c0c0c" stroke-width="2"/>
<circle cx="94.6" cy="747.2" r="6.3" fill="#e2e2e2" stroke="#0c0c0c" stroke-width="2"/>
<circle cx="143.9" cy="747.2" r="6.3" fill="#e2e2e2" stroke="#0c0c0c" stroke-width="2"/>
<text x="98.4" y="686.2" font-size="19.8" font-weight="normal" fill="#111" text-anchor="start" font-family="&quot;Liberation Sans&quot;, sans-serif" textLength="26.9" lengthAdjust="spacingAndGlyphs" stroke="#111" stroke-width="0.45">OH</text>
<text x="51.1" y="711.9" font-size="19.8" font-weight="normal" fill="#111" text-anchor="start" font-family="&quot;Liberation Sans&quot;, sans-serif" textLength="26.1" lengthAdjust="spacingAndGlyphs" stroke="#111" stroke-width="0.45">HO</text>
<text x="155.4" y="711.9" font-size="19.8" font-weight="normal" fill="#111" text-anchor="start" font-family="&quot;Liberation Sans&quot;, sans-serif" textLength="12.5" lengthAdjust="spacingAndGlyphs" stroke="#111" stroke-width="0.45">O</text>
<text x="50.4" y="764.2" font-size="19.8" font-weight="normal" fill="#111" text-anchor="start" font-family="&quot;Liberation Sans&quot;, sans-serif" textLength="27.2" lengthAdjust="spacingAndGlyphs" stroke="#111" stroke-width="0.45">HO</text>
<text x="161.2" y="764.2" font-size="19.8" font-weight="normal" fill="#111" text-anchor="start" font-family="&quot;Liberation Sans&quot;, sans-serif" textLength="25.8" lengthAdjust="spacingAndGlyphs" stroke="#111" stroke-width="0.45">OH</text>
<text x="119.7" y="767.6" font-size="19.8" font-weight="normal" fill="#b82838" text-anchor="start" font-family="&quot;Liberation Sans&quot;, sans-serif" textLength="10.9" lengthAdjust="spacingAndGlyphs" stroke="#b82838" stroke-width="0.4">N</text>
<text x="119.7" y="790" font-size="19.8" font-weight="normal" fill="#111" text-anchor="start" font-family="&quot;Liberation Sans&quot;, sans-serif" textLength="10.9" lengthAdjust="spacingAndGlyphs" stroke="#111" stroke-width="0.45">N</text>
<line x1="300.3" y1="684.4" x2="285.9" y2="697.0" stroke="#7a1010" stroke-width="2.6" stroke-linecap="round" />
<line x1="300.3" y1="684.4" x2="315.6" y2="697.0" stroke="#7a1010" stroke-width="2.6" stroke-linecap="round" />
<line x1="285.9" y1="697.0" x2="301.2" y2="710.6" stroke="#7a1010" stroke-width="2.6" stroke-linecap="round" />
<line x1="315.6" y1="697.0" x2="301.2" y2="710.6" stroke="#7a1010" stroke-width="2.6" stroke-linecap="round" />
<line x1="301.2" y1="710.6" x2="291.3" y2="727.7" stroke="#7a1010" stroke-width="2.6" stroke-linecap="round" />
<line x1="301.2" y1="710.6" x2="315.6" y2="731.3" stroke="#7a1010" stroke-width="2.6" stroke-linecap="round" />
<line x1="267.0" y1="720.5" x2="291.3" y2="727.7" stroke="#7a1010" stroke-width="2.6" stroke-linecap="round" />
<line x1="267.0" y1="720.5" x2="269.7" y2="739.4" stroke="#7a1010" stroke-width="2.6" stroke-linecap="round" />
<line x1="291.3" y1="727.7" x2="315.6" y2="731.3" stroke="#7a1010" stroke-width="2.6" stroke-linecap="round" />
<line x1="291.3" y1="727.7" x2="269.7" y2="739.4" stroke="#7a1010" stroke-width="2.6" stroke-linecap="round" />
<line x1="291.3" y1="727.7" x2="285.0" y2="747.5" stroke="#7a1010" stroke-width="2.6" stroke-linecap="round" />
<line x1="315.6" y1="731.3" x2="340.0" y2="730.4" stroke="#7a1010" stroke-width="2.6" stroke-linecap="round" />
<line x1="315.6" y1="731.3" x2="319.2" y2="747.5" stroke="#7a1010" stroke-width="2.6" stroke-linecap="round" />
<line x1="340.0" y1="730.4" x2="340.9" y2="752.0" stroke="#7a1010" stroke-width="2.6" stroke-linecap="round" />
<line x1="269.7" y1="739.4" x2="248.9" y2="744.8" stroke="#7a1010" stroke-width="2.6" stroke-linecap="round" />
<line x1="269.7" y1="739.4" x2="285.0" y2="747.5" stroke="#7a1010" stroke-width="2.6" stroke-linecap="round" />
<line x1="269.7" y1="739.4" x2="261.5" y2="760.1" stroke="#7a1010" stroke-width="2.6" stroke-linecap="round" />
<line x1="248.9" y1="744.8" x2="261.5" y2="760.1" stroke="#7a1010" stroke-width="2.6" stroke-linecap="round" />
<line x1="285.0" y1="747.5" x2="297.6" y2="762.8" stroke="#7a1010" stroke-width="2.6" stroke-linecap="round" />
<line x1="319.2" y1="747.5" x2="340.9" y2="752.0" stroke="#7a1010" stroke-width="2.6" stroke-linecap="round" />
<line x1="319.2" y1="747.5" x2="312.9" y2="767.3" stroke="#7a1010" stroke-width="2.6" stroke-linecap="round" />
<line x1="340.9" y1="752.0" x2="356.2" y2="751.1" stroke="#7a1010" stroke-width="2.6" stroke-linecap="round" />
<line x1="340.9" y1="752.0" x2="340.9" y2="768.3" stroke="#7a1010" stroke-width="2.6" stroke-linecap="round" />
<line x1="356.2" y1="751.1" x2="340.9" y2="768.3" stroke="#7a1010" stroke-width="2.6" stroke-linecap="round" />
<line x1="297.6" y1="762.8" x2="312.9" y2="767.3" stroke="#7a1010" stroke-width="2.6" stroke-linecap="round" />
<line x1="297.6" y1="762.8" x2="302.1" y2="779.1" stroke="#7a1010" stroke-width="2.6" stroke-linecap="round" />
<line x1="312.9" y1="767.3" x2="302.1" y2="779.1" stroke="#7a1010" stroke-width="2.6" stroke-linecap="round" />
<circle cx="300.3" cy="684.4" r="7.3" fill="url(#g_red2)"/>
<circle cx="285.9" cy="697.0" r="7.3" fill="url(#g_red2)"/>
<circle cx="315.6" cy="697.0" r="7.3" fill="url(#g_red2)"/>
<circle cx="301.2" cy="710.6" r="7.3" fill="url(#g_red2)"/>
<circle cx="267.0" cy="720.5" r="7.3" fill="url(#g_red2)"/>
<circle cx="291.3" cy="727.7" r="7.3" fill="url(#g_red2)"/>
<circle cx="315.6" cy="731.3" r="7.3" fill="url(#g_red2)"/>
<circle cx="340.0" cy="730.4" r="7.3" fill="url(#g_red2)"/>
<circle cx="269.7" cy="739.4" r="7.3" fill="url(#g_red2)"/>
<circle cx="248.9" cy="744.8" r="7.3" fill="url(#g_red2)"/>
<circle cx="285.0" cy="747.5" r="7.3" fill="url(#g_red2)"/>
<circle cx="319.2" cy="747.5" r="7.3" fill="url(#g_red2)"/>
<circle cx="340.9" cy="752.0" r="7.3" fill="url(#g_red2)"/>
<circle cx="356.2" cy="751.1" r="7.3" fill="url(#g_red2)"/>
<circle cx="261.5" cy="760.1" r="7.3" fill="url(#g_red2)"/>
<circle cx="297.6" cy="762.8" r="7.3" fill="url(#g_red2)"/>
<circle cx="312.9" cy="767.3" r="7.3" fill="url(#g_red2)"/>
<circle cx="340.9" cy="768.3" r="7.3" fill="url(#g_red2)"/>
<circle cx="302.1" cy="779.1" r="7.3" fill="url(#g_red2)"/>
<g fill="none" stroke-linecap="round">
<path d="M552.7,119 C575,113 612,114 627,125 C640,135 636,151 622,159 C612,165 600,170 591,176" stroke="#f4f4f4" stroke-width="10.5"/>
<path d="M552.7,119 C575,113 612,114 627,125 C640,135 636,151 622,159 C612,165 600,170 591,176" stroke="#3f76bb" stroke-width="7.5"/>
<ellipse cx="541.6" cy="157.3" rx="51.3" ry="36.3" transform="rotate(-8 541.6 157.3)" stroke="#f4f4f4" stroke-width="11"/>
<ellipse cx="541.6" cy="157.3" rx="51.3" ry="36.3" transform="rotate(-8 541.6 157.3)" stroke="#3f76bb" stroke-width="8"/>
</g>
<line x1="533.5" y1="88.3" x2="546.0" y2="117.1" stroke="#3f76bb" stroke-width="3.5" stroke-linecap="round" />
<line x1="569.0" y1="107.5" x2="583.5" y2="116.2" stroke="#c02020" stroke-width="3.5" stroke-linecap="round" />
<line x1="583.5" y1="116.2" x2="607.5" y2="115.2" stroke="#9a9ac0" stroke-width="5" stroke-linecap="round" />
<line x1="607.5" y1="115.2" x2="624.8" y2="95.0" stroke="#c02020" stroke-width="3.5" stroke-linecap="round" />
<line x1="592.1" y1="146.9" x2="623.8" y2="144.0" stroke="#3f76bb" stroke-width="4" stroke-linecap="round" />
<line x1="588.3" y1="181.5" x2="596.0" y2="204.6" stroke="#3f76bb" stroke-width="3.5" stroke-linecap="round" />
<line x1="592.1" y1="146.9" x2="588.3" y2="181.5" stroke="#3f76bb" stroke-width="3.5" stroke-linecap="round" />
<line x1="494.0" y1="148.8" x2="518.0" y2="155.6" stroke="#d8c820" stroke-width="3" stroke-linecap="round" />
<line x1="518.0" y1="155.6" x2="551.7" y2="152.7" stroke="#d8c820" stroke-width="3" stroke-linecap="round" />
<line x1="534.4" y1="136.3" x2="551.7" y2="152.7" stroke="#d8c820" stroke-width="3" stroke-linecap="round" />
<line x1="551.7" y1="152.7" x2="547.9" y2="167.1" stroke="#d8c820" stroke-width="3" stroke-linecap="round" />
<circle cx="533.5" cy="88.3" r="8.7" fill="url(#g_blue)"/>
<circle cx="569.0" cy="107.5" r="8.0" fill="url(#g_yellow)"/>
<circle cx="583.5" cy="116.2" r="7.3" fill="url(#g_red2)"/>
<circle cx="607.5" cy="115.2" r="8.0" fill="url(#g_red2)"/>
<circle cx="624.8" cy="95.0" r="8.5" fill="url(#g_red2)"/>
<circle cx="546.0" cy="117.1" r="9.0" fill="url(#g_blue)"/>
<circle cx="534.4" cy="136.3" r="8.5" fill="url(#g_yellow)"/>
<circle cx="494.0" cy="148.8" r="8.5" fill="url(#g_yellow)"/>
<circle cx="518.0" cy="155.6" r="8.5" fill="url(#g_yellow)"/>
<circle cx="551.7" cy="152.7" r="8.5" fill="url(#g_lgreen)"/>
<circle cx="547.9" cy="167.1" r="8.5" fill="url(#g_yellow)"/>
<circle cx="592.1" cy="146.9" r="8.7" fill="url(#g_blue)"/>
<circle cx="623.8" cy="144.0" r="8.0" fill="url(#g_blue)"/>
<circle cx="588.3" cy="181.5" r="6.0" fill="url(#g_blue)"/>
<circle cx="596.0" cy="204.6" r="8.5" fill="url(#g_blue)"/>
<circle cx="545" cy="189.2" r="2.3" fill="#d8c820"/>
<line x1="559.8" y1="213.1" x2="559.8" y2="250.7" stroke="#0a0a0a" stroke-width="3.3" stroke-linecap="round"/>
<path d="M551.9,249.7 L567.6999999999999,249.7 L559.8,264.7 z" fill="#0a0a0a"/>
<rect x="490.9" y="271.9" width="137.49999999999994" height="50.2" rx="9.5" fill="#79a1db" stroke="#0a0d18" stroke-width="2.8"/>
<rect x="493.1" y="274.1" width="133.09999999999997" height="45.8" rx="7" fill="none" stroke="#9fbde8" stroke-width="1" opacity="0.8"/>
<text x="511.5" y="306" font-size="22" font-weight="bold" fill="#0d1325" text-anchor="start" font-family="&quot;Liberation Sans&quot;, sans-serif" textLength="96.5" lengthAdjust="spacingAndGlyphs" >Screening</text>
<line x1="559.8" y1="328.6" x2="559.8" y2="371.8" stroke="#0a0a0a" stroke-width="3.3" stroke-linecap="round"/>
<path d="M551.9,370.8 L567.6999999999999,370.8 L559.8,385.8 z" fill="#0a0a0a"/>
<rect x="490.9" y="388.7" width="137.49999999999994" height="64.39999999999999" rx="9.5" fill="#79a1db" stroke="#0a0d18" stroke-width="2.8"/>
<rect x="493.1" y="390.90000000000003" width="133.09999999999997" height="59.999999999999986" rx="7" fill="none" stroke="#9fbde8" stroke-width="1" opacity="0.8"/>
<text x="509.3" y="416.2" font-size="22" font-weight="bold" fill="#0d1325" text-anchor="start" font-family="&quot;Liberation Sans&quot;, sans-serif" textLength="100.4" lengthAdjust="spacingAndGlyphs" >Creention</text>
<text x="528.9" y="444.4" font-size="22" font-weight="bold" fill="#0d1325" text-anchor="start" font-family="&quot;Liberation Sans&quot;, sans-serif" textLength="62.3" lengthAdjust="spacingAndGlyphs" >(dage)</text>
<line x1="559.8" y1="461.2" x2="559.8" y2="482" stroke="#0a0a0a" stroke-width="3.3" stroke-linecap="round"/>
<path d="M551.9,481 L567.6999999999999,481 L559.8,496 z" fill="#0a0a0a"/>
<rect x="490.9" y="500.59999999999997" width="137.49999999999994" height="48.000000000000014" rx="9.5" fill="#79a1db" stroke="#0a0d18" stroke-width="2.8"/>
<rect x="493.1" y="502.8" width="133.09999999999997" height="43.60000000000001" rx="7" fill="none" stroke="#9fbde8" stroke-width="1" opacity="0.8"/>
<text x="517.2" y="534.3" font-size="22" font-weight="bold" fill="#0d1325" text-anchor="start" font-family="&quot;Liberation Sans&quot;, sans-serif" textLength="84.8" lengthAdjust="spacingAndGlyphs" >Catalystt</text>
<line x1="559.8" y1="555.5" x2="559.8" y2="573" stroke="#0a0a0a" stroke-width="3.3" stroke-linecap="round"/>
<path d="M551.9,572 L567.6999999999999,572 L559.8,587 z" fill="#0a0a0a"/>
<rect x="490.9" y="591.0" width="137.49999999999994" height="48.800000000000026" rx="9.5" fill="#b8b8b8" stroke="#0a0d18" stroke-width="2.8"/>
<rect x="493.1" y="593.2" width="133.09999999999997" height="44.40000000000002" rx="7" fill="none" stroke="#cacaca" stroke-width="1" opacity="0.8"/>
<text x="520.8" y="623.2" font-size="22" font-weight="bold" fill="#111" text-anchor="start" font-family="&quot;Liberation Sans&quot;, sans-serif" textLength="78.1" lengthAdjust="spacingAndGlyphs" >Catalyst</text>
<line x1="559.8" y1="647.2" x2="559.8" y2="693.6" stroke="#0a0a0a" stroke-width="3.3" stroke-linecap="round"/>
<path d="M551.9,692.6 L567.6999999999999,692.6 L559.8,707.6 z" fill="#0a0a0a"/>
<rect x="490.7" y="711.9" width="137.69999999999993" height="49.300000000000026" rx="9.5" fill="#8a8a8a" stroke="#0a0d18" stroke-width="2.8"/>
<rect x="492.90000000000003" y="714.1" width="133.29999999999995" height="44.90000000000002" rx="7" fill="none" stroke="#9c9c9c" stroke-width="1" opacity="0.8"/>
<text x="520.5" y="745.6" font-size="22" font-weight="bold" fill="#111" text-anchor="start" font-family="&quot;Liberation Sans&quot;, sans-serif" textLength="79.1" lengthAdjust="spacingAndGlyphs" >Catalyst</text>
<text x="499.6" y="799.2" font-size="27.5" font-weight="bold" fill="#111" text-anchor="start" font-family="&quot;Liberation Sans&quot;, sans-serif" textLength="119.4" lengthAdjust="spacingAndGlyphs" >Screening</text>
<polyline points="470,422.2 405.2,422.2 405.2,737.6 470,737.6" fill="none" stroke="#0a0a0a" stroke-width="3.3" stroke-linejoin="miter"/>
<line x1="466" y1="422.2" x2="469.3" y2="422.2" stroke="#0a0a0a" stroke-width="3.3" stroke-linecap="butt"/>
<path d="M468.3,414.5 L468.3,429.9 L483.3,422.2 z" fill="#0a0a0a"/>
<line x1="466" y1="737.6" x2="469.3" y2="737.6" stroke="#0a0a0a" stroke-width="3.3" stroke-linecap="butt"/>
<path d="M468.3,729.9 L468.3,745.3000000000001 L483.3,737.6 z" fill="#0a0a0a"/>
<line x1="634.6" y1="422.5" x2="674.5" y2="422.5" stroke="#0a0a0a" stroke-width="3.3" stroke-linecap="round"/>
<path d="M673.5,414.8 L673.5,430.2 L688.5,422.5 z" fill="#0a0a0a"/>
<rect x="692.4" y="400.9" width="118.99999999999996" height="48.7" rx="9.5" fill="#4f80c8" stroke="#0a0d18" stroke-width="2.8"/>
<rect x="694.6" y="403.1" width="114.59999999999995" height="44.3" rx="7" fill="none" stroke="#6e98d6" stroke-width="1" opacity="0.8"/>
<text x="703.2" y="433.7" font-size="22" font-weight="bold" fill="#0d1325" text-anchor="start" font-family="&quot;Liberation Sans&quot;, sans-serif" textLength="97.1" lengthAdjust="spacingAndGlyphs" >Screening</text>
<polyline points="750.5,385 750.5,182.9 806,182.9" fill="none" stroke="#0a0a0a" stroke-width="3.3" stroke-linejoin="miter"/>
<line x1="750.5" y1="380" x2="750.5" y2="382.5" stroke="#0a0a0a" stroke-width="3.3" stroke-linecap="round"/>
<path d="M742.6,381.5 L758.4,381.5 L750.5,396.5 z" fill="#0a0a0a"/>
<line x1="800" y1="182.9" x2="804.9" y2="182.9" stroke="#0a0a0a" stroke-width="3.3" stroke-linecap="butt"/>
<path d="M803.9,175.20000000000002 L803.9,190.6 L818.9,182.9 z" fill="#0a0a0a"/>
<line x1="750.0" y1="456.0" x2="750.0" y2="679.6" stroke="#0a0a0a" stroke-width="3.3" stroke-linecap="round" stroke-linecap="butt"/>
<line x1="191.5" y1="430.7" x2="228.8" y2="430.7" stroke="#0a0a0a" stroke-width="3.5" stroke-linecap="round"/>
<path d="M227.8,423.09999999999997 L227.8,438.3 L241.8,430.7 z" fill="#0a0a0a"/>
<rect x="828.5" y="68.0" width="238.09999999999997" height="176.6" fill="#dedede" stroke="#0a0a0a" stroke-width="1.8"/>
<defs><linearGradient id="bg1" x1="0" x2="1"><stop offset="0" stop-color="#2f62ad"/><stop offset="0.5" stop-color="#4a80cc"/><stop offset="1" stop-color="#2f62ad"/></linearGradient></defs>
<line x1="871.3" y1="89.0" x2="871.3" y2="212.6" stroke="#666" stroke-width="1" stroke-linecap="round" stroke-linecap="butt"/>
<line x1="868.0" y1="212.6" x2="1050.7" y2="212.6" stroke="#777" stroke-width="1.2" stroke-linecap="round" stroke-linecap="butt"/>
<text x="865.7" y="92.9" font-size="8.8" font-weight="normal" fill="#1a1a1a" text-anchor="end" font-family="&quot;Liberation Sans&quot;, sans-serif" >100</text>
<line x1="868.5" y1="89.9" x2="871.3" y2="89.9" stroke="#666" stroke-width="1" stroke-linecap="round" stroke-linecap="butt"/>
<text x="865.7" y="122.7" font-size="8.8" font-weight="normal" fill="#1a1a1a" text-anchor="end" font-family="&quot;Liberation Sans&quot;, sans-serif" >80</text>
<line x1="868.5" y1="119.7" x2="871.3" y2="119.7" stroke="#666" stroke-width="1" stroke-linecap="round" stroke-linecap="butt"/>
<text x="865.7" y="154.4" font-size="8.8" font-weight="normal" fill="#1a1a1a" text-anchor="end" font-family="&quot;Liberation Sans&quot;, sans-serif" >40</text>
<line x1="868.5" y1="151.4" x2="871.3" y2="151.4" stroke="#666" stroke-width="1" stroke-linecap="round" stroke-linecap="butt"/>
<text x="865.7" y="185.2" font-size="8.8" font-weight="normal" fill="#1a1a1a" text-anchor="end" font-family="&quot;Liberation Sans&quot;, sans-serif" >20</text>
<line x1="868.5" y1="182.2" x2="871.3" y2="182.2" stroke="#666" stroke-width="1" stroke-linecap="round" stroke-linecap="butt"/>
<text x="865.7" y="215" font-size="8.8" font-weight="normal" fill="#1a1a1a" text-anchor="end" font-family="&quot;Liberation Sans&quot;, sans-serif" >0</text>
<line x1="868.5" y1="212.0" x2="871.3" y2="212.0" stroke="#666" stroke-width="1" stroke-linecap="round" stroke-linecap="butt"/>
<rect x="879.6" y="206.0" width="14.2" height="6.0" fill="url(#bg1)"/>
<rect x="900.0" y="193.8" width="14.9" height="18.2" fill="url(#bg1)"/>
<rect x="921.6" y="176.5" width="14.9" height="35.5" fill="url(#bg1)"/>
<rect x="943.3" y="169.3" width="15.4" height="42.7" fill="url(#bg1)"/>
<rect x="964.9" y="142.9" width="14.9" height="69.1" fill="url(#bg1)"/>
<rect x="986.5" y="126.1" width="15.4" height="85.9" fill="url(#bg1)"/>
<rect x="1008.2" y="104.9" width="15.3" height="107.1" fill="url(#bg1)"/>
<rect x="1029.8" y="86.0" width="15.4" height="126.0" fill="url(#bg1)"/>
<rect x="879.6" y="205.2" width="14.2" height="1.2" fill="#8a2a3a"/>
<line x1="887.3" y1="198.2" x2="1034.0" y2="80.5" stroke="#b02024" stroke-width="1.8" stroke-linecap="round" />
<path d="M1040,76 L1029.5,78.6 L1035.5,86 z" fill="#b02024"/>
<text x="889.7" y="218.5" font-size="8" font-weight="bold" fill="#1a1a1a" text-anchor="end" font-family="&quot;Liberation Sans&quot;, sans-serif" transform="rotate(-45 889.7 218.5)">lKmf</text>
<text x="910.45" y="218.5" font-size="8" font-weight="bold" fill="#1a1a1a" text-anchor="end" font-family="&quot;Liberation Sans&quot;, sans-serif" transform="rotate(-45 910.45 218.5)">Lad</text>
<text x="932.05" y="218.5" font-size="8" font-weight="bold" fill="#1a1a1a" text-anchor="end" font-family="&quot;Liberation Sans&quot;, sans-serif" transform="rotate(-45 932.05 218.5)">Lrnl</text>
<text x="954.0" y="218.5" font-size="8" font-weight="bold" fill="#1a1a1a" text-anchor="end" font-family="&quot;Liberation Sans&quot;, sans-serif" transform="rotate(-45 954.0 218.5)">fsl</text>
<text x="975.3499999999999" y="218.5" font-size="8" font-weight="bold" fill="#1a1a1a" text-anchor="end" font-family="&quot;Liberation Sans&quot;, sans-serif" transform="rotate(-45 975.3499999999999 218.5)">Bdl</text>
<text x="997.2" y="218.5" font-size="8" font-weight="bold" fill="#1a1a1a" text-anchor="end" font-family="&quot;Liberation Sans&quot;, sans-serif" transform="rotate(-45 997.2 218.5)">Eml</text>
<text x="1018.85" y="218.5" font-size="8" font-weight="bold" fill="#1a1a1a" text-anchor="end" font-family="&quot;Liberation Sans&quot;, sans-serif" transform="rotate(-45 1018.85 218.5)">lrdl</text>
<text x="1040.5" y="218.5" font-size="8" font-weight="bold" fill="#1a1a1a" text-anchor="end" font-family="&quot;Liberation Sans&quot;, sans-serif" transform="rotate(-45 1040.5 218.5)">Exastsf</text>
<text x="939.7" y="239.4" font-size="9" font-weight="bold" fill="#1a1a1a" text-anchor="start" font-family="&quot;Liberation Sans&quot;, sans-serif" textLength="22.4" lengthAdjust="spacingAndGlyphs" >Vatsel</text>
<text x="844.8" y="150.5" font-size="8.5" font-weight="bold" fill="#1a1a1a" text-anchor="middle" font-family="&quot;Liberation Sans&quot;, sans-serif" transform="rotate(-90 844.8 150.5)" textLength="45" lengthAdjust="spacingAndGlyphs">Pcum In otti</text>
<text x="825.4" y="276.3" font-size="16.5" font-weight="bold" fill="#111" text-anchor="start" font-family="&quot;Liberation Sans&quot;, sans-serif" textLength="153.8" lengthAdjust="spacingAndGlyphs" >Recomunet vvavees</text>
<rect x="852.4" y="293.4" width="199" height="131" fill="#eeeeee"/>
<line x1="893.3" y1="293.4" x2="893.3" y2="424.4" stroke="#c8c8c8" stroke-width="0.8" stroke-linecap="round" stroke-linecap="butt"/>
<line x1="924.5" y1="293.4" x2="924.5" y2="424.4" stroke="#c8c8c8" stroke-width="0.8" stroke-linecap="round" stroke-linecap="butt"/>
<line x1="956.5" y1="293.4" x2="956.5" y2="424.4" stroke="#c8c8c8" stroke-width="0.8" stroke-linecap="round" stroke-linecap="butt"/>
<line x1="988.2" y1="293.4" x2="988.2" y2="424.4" stroke="#c8c8c8" stroke-width="0.8" stroke-linecap="round" stroke-linecap="butt"/>
<line x1="1020.0" y1="293.4" x2="1020.0" y2="424.4" stroke="#c8c8c8" stroke-width="0.8" stroke-linecap="round" stroke-linecap="butt"/>
<line x1="1051.4" y1="293.4" x2="1051.4" y2="424.4" stroke="#c8c8c8" stroke-width="0.8" stroke-linecap="round" stroke-linecap="butt"/>
<line x1="852.4" y1="293.4" x2="1051.4" y2="293.4" stroke="#c8c8c8" stroke-width="0.8" stroke-linecap="round" />
<line x1="852.4" y1="388.4" x2="1051.4" y2="388.4" stroke="#d0d0d0" stroke-width="0.8" stroke-linecap="round" />
<line x1="852.4" y1="424.4" x2="1051.4" y2="424.4" stroke="#999" stroke-width="1" stroke-linecap="round" />
<line x1="852.4" y1="293.4" x2="852.4" y2="424.4" stroke="#999" stroke-width="1" stroke-linecap="round" />
<text x="847.7" y="298.09999999999997" font-size="9" font-weight="bold" fill="#1a1a1a" text-anchor="end" font-family="&quot;Liberation Serif&quot;, serif">50</text>
<text x="847.7" y="327.0" font-size="9" font-weight="bold" fill="#1a1a1a" text-anchor="end" font-family="&quot;Liberation Serif&quot;, serif">20</text>
<text x="847.7" y="352.59999999999997" font-size="9" font-weight="bold" fill="#1a1a1a" text-anchor="end" font-family="&quot;Liberation Serif&quot;, serif">20</text>
<text x="847.7" y="380.5" font-size="9" font-weight="bold" fill="#1a1a1a" text-anchor="end" font-family="&quot;Liberation Serif&quot;, serif">10</text>
<text x="847.7" y="408.0" font-size="9" font-weight="bold" fill="#1a1a1a" text-anchor="end" font-family="&quot;Liberation Serif&quot;, serif">2</text>
<text x="847.7" y="429.4" font-size="9" font-weight="bold" fill="#1a1a1a" text-anchor="end" font-family="&quot;Liberation Serif&quot;, serif">0</text>
<rect x="852.4" y="294.6" width="109.4" height="19.3" fill="#c0181c" stroke="#8a0c10" stroke-width="0.8"/>
<rect x="852.4" y="318" width="56" height="19.2" fill="#7ba6df" stroke="#3f66a0" stroke-width="0.8"/>
<rect x="852.4" y="340.8" width="34.4" height="19.2" fill="#6aaa46" stroke="#3d7a22" stroke-width="0.8"/>
<rect x="852.4" y="363.6" width="22.4" height="19.2" fill="#6aaa46" stroke="#3d7a22" stroke-width="0.8"/>
<line x1="852.4" y1="349.2" x2="1037.5" y2="349.2" stroke="#d89090" stroke-width="1.2" stroke-linecap="round" stroke-linecap="butt"/>
<text x="1037" y="353" font-size="17" font-weight="normal" fill="#111" text-anchor="start" font-family="&quot;Liberation Sans&quot;, sans-serif" textLength="29.7" lengthAdjust="spacingAndGlyphs" >00H</text>
<path d="M852.4,420.3 C880,418 905,412 927,404.3 C945,396 960,385 976,371" fill="none" stroke="#a02030" stroke-width="2" stroke-dasharray="5 3"/>
<path d="M852.4,402.8 L918,402.5 C935,400.5 950,393 960,386 C985,366 1020,332 1058,293" fill="none" stroke="#4a6a90" stroke-width="2" stroke-dasharray="6 3.5"/>
<path d="M1066.5,286.5 L1057,289.5 L1062,296 z" fill="#b03040"/>
<text x="866.3" y="436" font-size="8.5" fill="#1a1a1a" text-anchor="middle" font-family="&quot;Liberation Serif&quot;, serif">0</text>
<text x="891.5" y="436" font-size="8.5" fill="#1a1a1a" text-anchor="middle" font-family="&quot;Liberation Serif&quot;, serif">1</text>
<text x="918.5" y="436" font-size="8.5" fill="#1a1a1a" text-anchor="middle" font-family="&quot;Liberation Serif&quot;, serif">2</text>
<text x="948.6" y="436" font-size="8.5" fill="#1a1a1a" text-anchor="middle" font-family="&quot;Liberation Serif&quot;, serif">6</text>
<text x="972.6" y="436" font-size="8.5" fill="#1a1a1a" text-anchor="middle" font-family="&quot;Liberation Serif&quot;, serif">1</text>
<text x="988.2" y="436" font-size="8.5" fill="#1a1a1a" text-anchor="middle" font-family="&quot;Liberation Serif&quot;, serif">6</text>
<text x="1013.4" y="436" font-size="8.5" fill="#1a1a1a" text-anchor="middle" font-family="&quot;Liberation Serif&quot;, serif">3</text>
<text x="1039.9" y="436" font-size="8.5" fill="#1a1a1a" text-anchor="middle" font-family="&quot;Liberation Serif&quot;, serif">4</text>
<text x="953.4" y="448.5" font-size="8.5" fill="#1a1a1a" text-anchor="middle" font-family="&quot;Liberation Serif&quot;, serif">Vatuet</text>
<text x="824.6" y="468.7" font-size="16.5" font-weight="bold" fill="#111" text-anchor="start" font-family="&quot;Liberation Sans&quot;, sans-serif" textLength="131.4" lengthAdjust="spacingAndGlyphs" >Selection veation</text>
<rect x="828.5" y="473.7" width="238.09999999999997" height="158.0" fill="#dedede" stroke="#0a0a0a" stroke-width="1.8"/>
<line x1="863.3" y1="488.4" x2="863.3" y2="610.5" stroke="#777" stroke-width="1" stroke-linecap="round" stroke-linecap="butt"/>
<line x1="863.3" y1="610.5" x2="1059.1" y2="610.5" stroke="#888" stroke-width="1.2" stroke-linecap="round" stroke-linecap="butt"/>
<text x="858.5" y="491.4" font-size="8.5" font-weight="normal" fill="#333" text-anchor="end" font-family="&quot;Liberation Sans&quot;, sans-serif" >40</text>
<text x="858.5" y="516" font-size="8.5" font-weight="normal" fill="#333" text-anchor="end" font-family="&quot;Liberation Sans&quot;, sans-serif" >40</text>
<text x="858.5" y="540.2" font-size="8.5" font-weight="normal" fill="#333" text-anchor="end" font-family="&quot;Liberation Sans&quot;, sans-serif" >40</text>
<text x="858.5" y="564.7" font-size="8.5" font-weight="normal" fill="#333" text-anchor="end" font-family="&quot;Liberation Sans&quot;, sans-serif" >40</text>
<text x="858.5" y="589.5" font-size="8.5" font-weight="normal" fill="#333" text-anchor="end" font-family="&quot;Liberation Sans&quot;, sans-serif" >30</text>
<text x="858.5" y="613.5" font-size="8.5" font-weight="normal" fill="#333" text-anchor="end" font-family="&quot;Liberation Sans&quot;, sans-serif" >0</text>
<text x="842.6" y="550.8" font-size="7.5" fill="#222" text-anchor="middle" font-family="&quot;Liberation Sans&quot;, sans-serif" transform="rotate(-90 842.6 550.8)" textLength="46" lengthAdjust="spacingAndGlyphs">Pasteiri lesster</text>
<rect x="894.5" y="484.8" width="25.2" height="7.2" fill="#3f6fb5" stroke="#2a4e86" stroke-width="0.6"/>
<rect x="894.5" y="499.3" width="25.2" height="7.2" fill="#5aa83a" stroke="#3a7a20" stroke-width="0.6"/>
<rect x="894.5" y="513.7" width="25.2" height="7.7" fill="#8bb0e0" stroke="#5a80b8" stroke-width="0.6"/>
<text x="924.2" y="492" font-size="8" font-weight="normal" fill="#1e1e1e" text-anchor="start" font-family="&quot;Liberation Sans&quot;, sans-serif" textLength="73.6" lengthAdjust="spacingAndGlyphs" stroke="#1e1e1e" stroke-width="0.3">Cocommunnt phdkel</text>
<text x="924.2" y="506.3" font-size="8" font-weight="normal" fill="#1e1e1e" text-anchor="start" font-family="&quot;Liberation Sans&quot;, sans-serif" textLength="43.5" lengthAdjust="spacingAndGlyphs" stroke="#1e1e1e" stroke-width="0.3">Cepnto  cluy</text>
<text x="924.2" y="520.8" font-size="8" font-weight="normal" fill="#1e1e1e" text-anchor="start" font-family="&quot;Liberation Sans&quot;, sans-serif" textLength="14" lengthAdjust="spacingAndGlyphs" stroke="#1e1e1e" stroke-width="0.3">Cafiti</text>
<defs><linearGradient id="bg3" x1="0" x2="1"><stop offset="0" stop-color="#3564ae"/><stop offset="0.5" stop-color="#4a7fcc"/><stop offset="1" stop-color="#3564ae"/></linearGradient></defs>
<rect x="871.7" y="603.3" width="8.6" height="7.2" fill="url(#bg3)"/>
<text x="876.0" y="619.5" font-size="6.5" font-weight="normal" fill="#444" text-anchor="middle" font-family="&quot;Liberation Sans&quot;, sans-serif" >lwsat</text>
<rect x="886.1" y="597.3" width="8.6" height="13.2" fill="url(#bg3)"/>
<text x="890.4" y="619.5" font-size="6.5" font-weight="normal" fill="#444" text-anchor="middle" font-family="&quot;Liberation Sans&quot;, sans-serif" >Jo</text>
<rect x="900.5" y="586.5" width="8.6" height="24.0" fill="url(#bg3)"/>
<text x="904.8" y="619.5" font-size="6.5" font-weight="normal" fill="#444" text-anchor="middle" font-family="&quot;Liberation Sans&quot;, sans-serif" >lp</text>
<rect x="914.9" y="581.0" width="8.6" height="29.5" fill="url(#bg3)"/>
<text x="919.1999999999999" y="619.5" font-size="6.5" font-weight="normal" fill="#444" text-anchor="middle" font-family="&quot;Liberation Sans&quot;, sans-serif" >Jo</text>
<rect x="929.8" y="568.2" width="8.6" height="42.3" fill="url(#bg3)"/>
<text x="934.0999999999999" y="619.5" font-size="6.5" font-weight="normal" fill="#444" text-anchor="middle" font-family="&quot;Liberation Sans&quot;, sans-serif" >lh</text>
<rect x="944.2" y="558.6" width="8.6" height="51.9" fill="url(#bg3)"/>
<text x="948.5" y="619.5" font-size="6.5" font-weight="normal" fill="#444" text-anchor="middle" font-family="&quot;Liberation Sans&quot;, sans-serif" >Jl</text>
<rect x="958.9" y="543.7" width="8.6" height="66.8" fill="url(#bg3)"/>
<text x="963.1999999999999" y="619.5" font-size="6.5" font-weight="normal" fill="#444" text-anchor="middle" font-family="&quot;Liberation Sans&quot;, sans-serif" >lswa</text>
<rect x="973.3" y="547.3" width="8.6" height="63.2" fill="url(#bg3)"/>
<text x="977.5999999999999" y="619.5" font-size="6.5" font-weight="normal" fill="#444" text-anchor="middle" font-family="&quot;Liberation Sans&quot;, sans-serif" >l</text>
<rect x="987.7" y="540.6" width="8.6" height="69.9" fill="url(#bg3)"/>
<text x="992.0" y="619.5" font-size="6.5" font-weight="normal" fill="#444" text-anchor="middle" font-family="&quot;Liberation Sans&quot;, sans-serif" >Lu</text>
<rect x="1002.6" y="532.4" width="8.6" height="78.1" fill="url(#bg3)"/>
<text x="1006.9" y="619.5" font-size="6.5" font-weight="normal" fill="#444" text-anchor="middle" font-family="&quot;Liberation Sans&quot;, sans-serif" >lb</text>
<rect x="1017.0" y="520.2" width="8.6" height="90.3" fill="url(#bg3)"/>
<text x="1021.3" y="619.5" font-size="6.5" font-weight="normal" fill="#444" text-anchor="middle" font-family="&quot;Liberation Sans&quot;, sans-serif" >lu</text>
<rect x="1032.0" y="511.8" width="8.6" height="98.7" fill="url(#bg3)"/>
<text x="1036.3" y="619.5" font-size="6.5" font-weight="normal" fill="#444" text-anchor="middle" font-family="&quot;Liberation Sans&quot;, sans-serif" >ulo</text>
<rect x="1047.1" y="495.2" width="8.6" height="115.3" fill="url(#bg3)"/>
<text x="1051.3999999999999" y="619.5" font-size="6.5" font-weight="normal" fill="#444" text-anchor="middle" font-family="&quot;Liberation Sans&quot;, sans-serif" >lp</text>
<text x="918.4" y="655.6" font-size="17.5" font-weight="bold" fill="#111" text-anchor="start" font-family="&quot;Liberation Sans&quot;, sans-serif" textLength="53.4" lengthAdjust="spacingAndGlyphs" >Boinds</text>
<rect x="828.5" y="659.6999999999999" width="238.09999999999997" height="143.8" fill="#eeeeee" stroke="#0a0a0a" stroke-width="1.8"/>
<line x1="863.3" y1="675.7" x2="1059.0" y2="675.7" stroke="#cfcfcf" stroke-width="0.8" stroke-linecap="round" stroke-linecap="butt"/>
<line x1="863.3" y1="696.6" x2="1059.0" y2="696.6" stroke="#cfcfcf" stroke-width="0.8" stroke-linecap="round" stroke-linecap="butt"/>
<line x1="863.3" y1="717.0" x2="1059.0" y2="717.0" stroke="#cfcfcf" stroke-width="0.8" stroke-linecap="round" stroke-linecap="butt"/>
<line x1="863.3" y1="737.7" x2="1059.0" y2="737.7" stroke="#cfcfcf" stroke-width="0.8" stroke-linecap="round" stroke-linecap="butt"/>
<line x1="863.3" y1="758.6" x2="1059.0" y2="758.6" stroke="#cfcfcf" stroke-width="0.8" stroke-linecap="round" stroke-linecap="butt"/>
<line x1="870.3" y1="675.7" x2="870.3" y2="779.5" stroke="#e0e0e0" stroke-width="0.6" stroke-linecap="round" stroke-linecap="butt"/>
<line x1="880.3" y1="675.7" x2="880.3" y2="779.5" stroke="#e0e0e0" stroke-width="0.6" stroke-linecap="round" stroke-linecap="butt"/>
<line x1="890.3" y1="675.7" x2="890.3" y2="779.5" stroke="#e0e0e0" stroke-width="0.6" stroke-linecap="round" stroke-linecap="butt"/>
<line x1="900.3" y1="675.7" x2="900.3" y2="779.5" stroke="#e0e0e0" stroke-width="0.6" stroke-linecap="round" stroke-linecap="butt"/>
<line x1="910.3" y1="675.7" x2="910.3" y2="779.5" stroke="#e0e0e0" stroke-width="0.6" stroke-linecap="round" stroke-linecap="butt"/>
<line x1="920.3" y1="675.7" x2="920.3" y2="779.5" stroke="#e0e0e0" stroke-width="0.6" stroke-linecap="round" stroke-linecap="butt"/>
<line x1="930.3" y1="675.7" x2="930.3" y2="779.5" stroke="#e0e0e0" stroke-width="0.6" stroke-linecap="round" stroke-linecap="butt"/>
<line x1="940.3" y1="675.7" x2="940.3" y2="779.5" stroke="#e0e0e0" stroke-width="0.6" stroke-linecap="round" stroke-linecap="butt"/>
<line x1="950.3" y1="675.7" x2="950.3" y2="779.5" stroke="#e0e0e0" stroke-width="0.6" stroke-linecap="round" stroke-linecap="butt"/>
<line x1="960.3" y1="675.7" x2="960.3" y2="779.5" stroke="#e0e0e0" stroke-width="0.6" stroke-linecap="round" stroke-linecap="butt"/>
<line x1="970.2" y1="675.7" x2="970.2" y2="779.5" stroke="#e0e0e0" stroke-width="0.6" stroke-linecap="round" stroke-linecap="butt"/>
<line x1="980.2" y1="675.7" x2="980.2" y2="779.5" stroke="#e0e0e0" stroke-width="0.6" stroke-linecap="round" stroke-linecap="butt"/>
<line x1="990.2" y1="675.7" x2="990.2" y2="779.5" stroke="#e0e0e0" stroke-width="0.6" stroke-linecap="round" stroke-linecap="butt"/>
<line x1="1000.2" y1="675.7" x2="1000.2" y2="779.5" stroke="#e0e0e0" stroke-width="0.6" stroke-linecap="round" stroke-linecap="butt"/>
<line x1="1010.2" y1="675.7" x2="1010.2" y2="779.5" stroke="#e0e0e0" stroke-width="0.6" stroke-linecap="round" stroke-linecap="butt"/>
<line x1="1020.2" y1="675.7" x2="1020.2" y2="779.5" stroke="#e0e0e0" stroke-width="0.6" stroke-linecap="round" stroke-linecap="butt"/>
<line x1="1030.2" y1="675.7" x2="1030.2" y2="779.5" stroke="#e0e0e0" stroke-width="0.6" stroke-linecap="round" stroke-linecap="butt"/>
<line x1="1040.2" y1="675.7" x2="1040.2" y2="779.5" stroke="#e0e0e0" stroke-width="0.6" stroke-linecap="round" stroke-linecap="butt"/>
<line x1="1050.2" y1="675.7" x2="1050.2" y2="779.5" stroke="#e0e0e0" stroke-width="0.6" stroke-linecap="round" stroke-linecap="butt"/>
<line x1="863.3" y1="675.7" x2="863.3" y2="779.5" stroke="#888" stroke-width="1" stroke-linecap="round" stroke-linecap="butt"/>
<line x1="863.3" y1="779.5" x2="1059.0" y2="779.5" stroke="#888" stroke-width="1.2" stroke-linecap="round" stroke-linecap="butt"/>
<text x="845.5" y="678.5" font-size="7.5" font-weight="normal" fill="#333" text-anchor="start" font-family="&quot;Liberation Sans&quot;, sans-serif" textLength="13" lengthAdjust="spacingAndGlyphs" >3,00</text>
<text x="845.5" y="699.4" font-size="7.5" font-weight="normal" fill="#333" text-anchor="start" font-family="&quot;Liberation Sans&quot;, sans-serif" textLength="13" lengthAdjust="spacingAndGlyphs" >3,00</text>
<text x="847.5" y="719.8" font-size="7.5" font-weight="normal" fill="#333" text-anchor="start" font-family="&quot;Liberation Sans&quot;, sans-serif" textLength="11" lengthAdjust="spacingAndGlyphs" >J00</text>
<text x="847.5" y="740.5" font-size="7.5" font-weight="normal" fill="#333" text-anchor="start" font-family="&quot;Liberation Sans&quot;, sans-serif" textLength="11" lengthAdjust="spacingAndGlyphs" >400</text>
<text x="847.5" y="761.4" font-size="7.5" font-weight="normal" fill="#333" text-anchor="start" font-family="&quot;Liberation Sans&quot;, sans-serif" textLength="11" lengthAdjust="spacingAndGlyphs" >J00</text>
<text x="854.5" y="782.3" font-size="7.5" font-weight="normal" fill="#333" text-anchor="start" font-family="&quot;Liberation Sans&quot;, sans-serif" textLength="4" lengthAdjust="spacingAndGlyphs" >0</text>
<text x="842" y="728" font-size="7" fill="#333" text-anchor="middle" font-family="&quot;Liberation Sans&quot;, sans-serif" transform="rotate(-90 842 728)" textLength="56" lengthAdjust="spacingAndGlyphs">Pawnlawluctio sucol</text>
<rect x="866.9" y="747.7" width="6.7" height="31.8" fill="#5c5c5c"/>
<text x="871.9" y="785" font-size="6.5" fill="#555" text-anchor="end" font-family="&quot;Liberation Sans&quot;, sans-serif" transform="rotate(-50 871.9 785)">lnast</text>
<rect x="876.9" y="732.8" width="6.7" height="46.7" fill="#5c5c5c"/>
<text x="881.895" y="785" font-size="6.5" fill="#555" text-anchor="end" font-family="&quot;Liberation Sans&quot;, sans-serif" transform="rotate(-50 881.895 785)">lnast</text>
<rect x="886.9" y="754.5" width="6.7" height="25.0" fill="#5c5c5c"/>
<text x="891.89" y="785" font-size="6.5" fill="#555" text-anchor="end" font-family="&quot;Liberation Sans&quot;, sans-serif" transform="rotate(-50 891.89 785)">lnast</text>
<rect x="896.9" y="755.0" width="6.7" height="24.5" fill="#5c5c5c"/>
<text x="901.885" y="785" font-size="6.5" fill="#555" text-anchor="end" font-family="&quot;Liberation Sans&quot;, sans-serif" transform="rotate(-50 901.885 785)">lnast</text>
<rect x="906.9" y="745.8" width="6.7" height="33.7" fill="#5c5c5c"/>
<text x="911.88" y="785" font-size="6.5" fill="#555" text-anchor="end" font-family="&quot;Liberation Sans&quot;, sans-serif" transform="rotate(-50 911.88 785)">lnast</text>
<rect x="916.9" y="737.2" width="6.7" height="42.3" fill="#5c5c5c"/>
<text x="921.875" y="785" font-size="6.5" fill="#555" text-anchor="end" font-family="&quot;Liberation Sans&quot;, sans-serif" transform="rotate(-50 921.875 785)">lnast</text>
<rect x="926.9" y="750.2" width="6.7" height="29.3" fill="#5c5c5c"/>
<text x="931.87" y="785" font-size="6.5" fill="#555" text-anchor="end" font-family="&quot;Liberation Sans&quot;, sans-serif" transform="rotate(-50 931.87 785)">lnast</text>
<rect x="936.9" y="744.9" width="6.7" height="34.6" fill="#5c5c5c"/>
<text x="941.865" y="785" font-size="6.5" fill="#555" text-anchor="end" font-family="&quot;Liberation Sans&quot;, sans-serif" transform="rotate(-50 941.865 785)">lnast</text>
<rect x="946.9" y="705.0" width="6.7" height="74.5" fill="#5c5c5c"/>
<text x="951.86" y="785" font-size="6.5" fill="#555" text-anchor="end" font-family="&quot;Liberation Sans&quot;, sans-serif" transform="rotate(-50 951.86 785)">lnast</text>
<rect x="956.9" y="736.5" width="6.7" height="43.0" fill="#5c5c5c"/>
<text x="961.855" y="785" font-size="6.5" fill="#555" text-anchor="end" font-family="&quot;Liberation Sans&quot;, sans-serif" transform="rotate(-50 961.855 785)">lnast</text>
<rect x="966.8" y="724.9" width="6.7" height="54.6" fill="#5c5c5c"/>
<text x="971.8499999999999" y="785" font-size="6.5" fill="#555" text-anchor="end" font-family="&quot;Liberation Sans&quot;, sans-serif" transform="rotate(-50 971.8499999999999 785)">lnast</text>
<rect x="976.8" y="725.6" width="6.7" height="53.9" fill="#5c5c5c"/>
<text x="981.845" y="785" font-size="6.5" fill="#555" text-anchor="end" font-family="&quot;Liberation Sans&quot;, sans-serif" transform="rotate(-50 981.845 785)">lnast</text>
<rect x="986.8" y="724.4" width="6.7" height="55.1" fill="#5c5c5c"/>
<text x="991.8399999999999" y="785" font-size="6.5" fill="#555" text-anchor="end" font-family="&quot;Liberation Sans&quot;, sans-serif" transform="rotate(-50 991.8399999999999 785)">lnast</text>
<rect x="996.8" y="719.9" width="6.7" height="59.6" fill="#5c5c5c"/>
<text x="1001.835" y="785" font-size="6.5" fill="#555" text-anchor="end" font-family="&quot;Liberation Sans&quot;, sans-serif" transform="rotate(-50 1001.835 785)">lnast</text>
<rect x="1006.8" y="712.9" width="6.7" height="66.6" fill="#5c5c5c"/>
<text x="1011.8299999999999" y="785" font-size="6.5" fill="#555" text-anchor="end" font-family="&quot;Liberation Sans&quot;, sans-serif" transform="rotate(-50 1011.8299999999999 785)">lnast</text>
<rect x="1016.8" y="705.7" width="6.7" height="73.8" fill="#5c5c5c"/>
<text x="1021.8249999999999" y="785" font-size="6.5" fill="#555" text-anchor="end" font-family="&quot;Liberation Sans&quot;, sans-serif" transform="rotate(-50 1021.8249999999999 785)">lnast</text>
<rect x="1026.8" y="697.3" width="6.7" height="82.2" fill="#5c5c5c"/>
<text x="1031.82" y="785" font-size="6.5" fill="#555" text-anchor="end" font-family="&quot;Liberation Sans&quot;, sans-serif" transform="rotate(-50 1031.82 785)">lnast</text>
<rect x="1036.8" y="682.9" width="6.7" height="96.6" fill="#5c5c5c"/>
<text x="1041.815" y="785" font-size="6.5" fill="#555" text-anchor="end" font-family="&quot;Liberation Sans&quot;, sans-serif" transform="rotate(-50 1041.815 785)">lnast</text>
<rect x="1046.8" y="672.1" width="6.7" height="107.4" fill="#5c5c5c"/>
<text x="1051.81" y="785" font-size="6.5" fill="#555" text-anchor="end" font-family="&quot;Liberation Sans&quot;, sans-serif" transform="rotate(-50 1051.81 785)">lnast</text>
</svg></body></html>
